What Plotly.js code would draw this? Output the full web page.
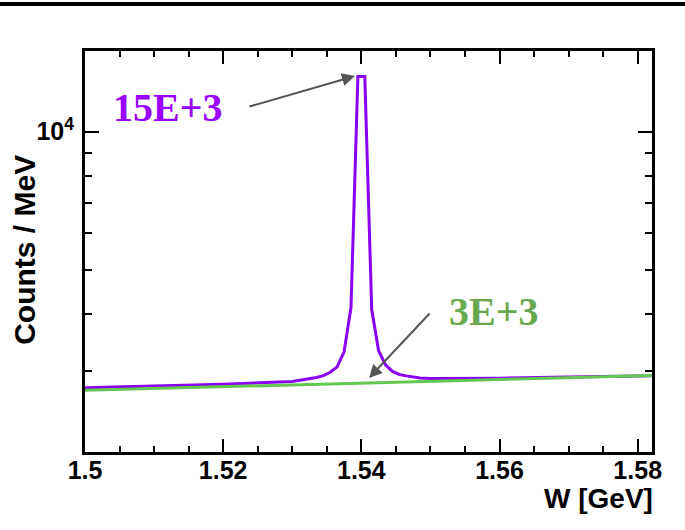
<!DOCTYPE html>
<html>
<head>
<meta charset="utf-8">
<script src="https://cdn.plot.ly/plotly-3.0.1.min.js"></script>
<style>
html, body { margin: 0; padding: 0; background: #ffffff; }
#chart { width: 685px; height: 530px; }
</style>
</head>
<body>
<div id="chart"></div>
<script>
// Signal + background curve (purple), W in GeV, counts per MeV
const signalW = [1.500, 1.510, 1.520, 1.530, 1.5325, 1.5335, 1.5345, 1.5355, 1.5365, 1.5375, 1.5385, 1.5395,
                 1.5405, 1.5415, 1.5425, 1.5435, 1.5445, 1.5455, 1.5465, 1.5485, 1.550, 1.560, 1.570, 1.582];
const signalCounts = [2763, 2787, 2810, 2850, 2886, 2907, 2935, 2985, 3068, 3309, 4133, 13200,
                      13200, 4090, 3326, 3099, 2999, 2953, 2932, 2902, 2895, 2898, 2914, 2935];

// Background curve (green)
const backgroundW = [1.500, 1.520, 1.540, 1.560, 1.580, 1.582];
const backgroundCounts = [2727, 2778, 2827, 2879, 2931, 2937];

// Axis ticks
const xTickVals = [1.5, 1.52, 1.54, 1.56, 1.58];
const xTickText = ['1.5', '1.52', '1.54', '1.56', '1.58'];
const yTickVals = [10000];
const yTickText = ['10<sup>4</sup>'];
const yMinorVals = [3000, 4000, 5000, 6000, 7000, 8000, 9000];

// Labels
const peakLabel = '15E+3';
const bgLabel = '3E+3';
const xTitle = 'W [GeV]';
const yTitle = 'Counts / MeV';

const tickFont = { family: 'Liberation Sans, Arial, sans-serif', size: 25, color: '#000', weight: 'bold' };
const labelFontFamily = 'Liberation Serif, Times New Roman, serif';

const traces = [
  {
    type: 'scatter', mode: 'lines',
    x: signalW, y: signalCounts,
    line: { color: '#8a00f0', width: 3 },
    hoverinfo: 'skip', showlegend: false
  },
  {
    type: 'scatter', mode: 'lines',
    x: backgroundW, y: backgroundCounts,
    line: { color: '#62c850', width: 3 },
    hoverinfo: 'skip', showlegend: false
  }
];

const layout = {
  width: 685, height: 530,
  margin: { l: 85, r: 33, t: 51, b: 78, pad: 0 },
  paper_bgcolor: '#ffffff', plot_bgcolor: '#ffffff',
  showlegend: false,
  xaxis: {
    type: 'linear',
    range: [1.5, 1.58207],
    tickmode: 'array', tickvals: xTickVals, ticktext: xTickText,
    ticks: 'inside', ticklen: 13, tickwidth: 2, tickcolor: '#000',
    minor: { tickmode: 'linear', tick0: 1.5, dtick: 0.005, ticks: 'inside', ticklen: 6, tickwidth: 2, tickcolor: '#000', showgrid: false },
    showline: true, linecolor: '#000', linewidth: 3, mirror: 'ticks',
    showgrid: false, zeroline: false,
    tickfont: tickFont,
    ticklabelstandoff: -6
  },
  yaxis: {
    type: 'log',
    range: [Math.log10(2000), Math.log10(15000)],
    tickmode: 'array', tickvals: yTickVals, ticktext: yTickText,
    ticks: 'inside', ticklen: 14, tickwidth: 2, tickcolor: '#000',
    minor: { tickmode: 'array', tickvals: yMinorVals, ticks: 'inside', ticklen: 7, tickwidth: 2, tickcolor: '#000', showgrid: false },
    showline: true, linecolor: '#000', linewidth: 3, mirror: 'ticks',
    showgrid: false, zeroline: false,
    tickfont: tickFont,
    ticklabelstandoff: 3
  },
  shapes: [
    { type: 'line', xref: 'paper', yref: 'paper', x0: -0.2, x1: 1.2, y0: 1.1172, y1: 1.1172,
      line: { color: '#000', width: 4 } }
  ],
  annotations: [
    { xref: 'paper', yref: 'paper', x: 0.4762, y: 0.9377, ax: -107, ay: 31, text: '',
      showarrow: true, arrowhead: 2, arrowsize: 1.3, arrowwidth: 2, arrowcolor: '#555555' },
    { xref: 'paper', yref: 'paper', x: 0.5009, y: 0.1845, ax: 62, ay: -66, text: '',
      showarrow: true, arrowhead: 2, arrowsize: 1.3, arrowwidth: 2, arrowcolor: '#555555' },
    { xref: 'paper', yref: 'paper', x: 0.1455, y: 0.859, text: peakLabel, showarrow: false,
      xanchor: 'center', yanchor: 'middle',
      font: { family: labelFontFamily, size: 40, color: '#9900ff', weight: 'bold' } },
    { xref: 'paper', yref: 'paper', x: 0.7205, y: 0.3516, text: bgLabel, showarrow: false,
      xanchor: 'center', yanchor: 'middle',
      font: { family: labelFontFamily, size: 40, color: '#6aa84f', weight: 'bold' } },
    { xref: 'paper', yref: 'paper', x: -0.107, y: 0.505, text: yTitle, showarrow: false,
      textangle: -90, xanchor: 'center', yanchor: 'middle',
      font: { family: 'Liberation Sans, Arial, sans-serif', size: 30, color: '#000', weight: 'bold' } },
    { xref: 'paper', yref: 'paper', x: 1.005, y: -0.115, text: xTitle, showarrow: false,
      xanchor: 'right', yanchor: 'middle',
      font: { family: 'Liberation Sans, Arial, sans-serif', size: 28, color: '#000', weight: 'bold' } }
  ]
};

Plotly.newPlot('chart', traces, layout, { displayModeBar: false, staticPlot: true });
</script>
</body>
</html>
